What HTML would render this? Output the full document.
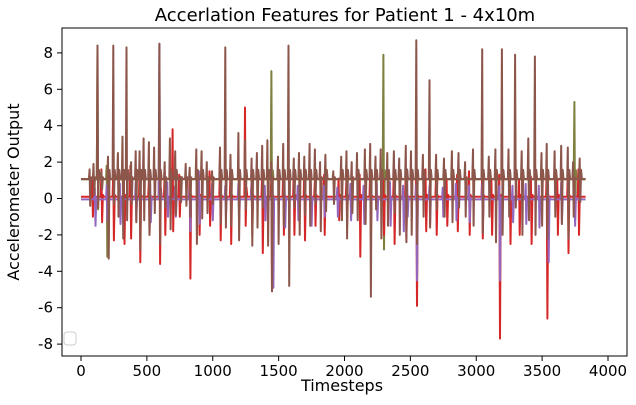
<!DOCTYPE html>
<html><head><meta charset="utf-8"><style>
body{margin:0;background:#fff;font-family:"DejaVu Sans",sans-serif}
svg text{font-family:"DejaVu Sans","Liberation Sans",sans-serif;fill:#000}
</style></head><body>
<svg id="c" width="636" height="401">
<rect x="0" y="0" width="636" height="401" fill="#fff"/>
<text x="345" y="21" font-size="18" text-anchor="middle">Accerlation Features for Patient 1 - 4x10m</text>
<text x="342" y="391" font-size="16" text-anchor="middle">Timesteps</text>
<text x="19" y="192" font-size="16" text-anchor="middle" transform="rotate(-90 19 192)">Accelerometer Output</text>
<g id="plot"></g>
<rect x="62" y="28" width="565" height="328" fill="none" stroke="#000" stroke-width="1"/>
<rect x="64" y="332" width="12" height="13" rx="3" fill="#fff" stroke="#ccc"/>
</svg>
<script>
const xTicks=[0,500,1000,1500,2000,2500,3000,3500,4000];
const yTicks=[-8,-6,-4,-2,0,2,4,6,8];
const baseBrown=1.07, baseOlive=1.05, baseRed=0.1, basePurple=-0.05;
// events: [timestep, peak, trough]
const oliveEvents=[[130,8.4,-0.6],[1450,7.0,-1.0],[2300,7.9,-2.8],[3750,5.3,-1.2],[200,1.8,-3.2]];
const brownEvents=[[70,1.6,-0.4],[100,1.9,0.2],[130,8.4,-0.5],[160,1.5,0.5],[210,2.3,-3.3],[250,8.4,-0.3],[285,2.5,-1.0],[320,3.4,-2.2],[350,8.3,-1.2],[385,2.0,-0.3],[420,2.6,-1.3],[450,2.6,-2.8],[480,3.3,-1.2],[520,3.1,-2.0],[560,2.8,-0.8],[600,8.5,-2.5],[640,2.0,-0.5],[680,3.3,-1.7],[720,2.6,-0.9],[760,1.2,-0.2],[800,1.9,-0.4],[830,1.7,-1.0],[880,2.7,-2.5],[920,2.6,-1.1],[960,2.0,-0.8],[1000,1.5,-0.3],[1060,2.8,-1.4],[1100,8.3,-1.6],[1140,2.4,-1.5],[1200,3.6,-2.3],[1250,3.2,-0.6],[1300,2.2,-2.6],[1340,2.5,-1.6],[1380,2.9,-0.5],[1420,3.2,-2.6],[1450,2.0,-5.1],[1500,2.3,-2.5],[1540,3.0,-1.5],[1580,8.4,-4.8],[1620,2.2,-0.5],[1660,2.5,-2.0],[1700,2.3,-0.9],[1740,3.0,-1.5],[1780,2.7,-0.3],[1820,2.0,-1.8],[1860,2.4,-0.7],[1920,1.5,-0.3],[1980,2.3,-1.2],[2020,2.6,-2.2],[2060,2.0,-0.8],[2100,2.5,-1.2],[2160,2.7,-1.4],[2200,3.0,-5.4],[2240,2.3,-0.6],[2280,2.7,-2.2],[2330,2.5,-1.5],[2380,2.6,-0.8],[2420,2.2,-2.0],[2470,2.9,-2.4],[2510,2.6,-2.0],[2550,8.7,-2.5],[2600,2.4,-1.0],[2650,6.5,-1.6],[2700,2.4,-0.6],[2760,2.2,-1.0],[2820,2.6,-1.3],[2870,2.5,-0.5],[2920,2.0,-1.0],[2980,2.7,-1.5],[3050,8.2,-1.9],[3100,2.3,-1.0],[3150,2.7,-2.4],[3200,8.2,-2.0],[3250,2.7,-1.0],[3300,7.9,-0.5],[3350,2.6,-2.0],[3400,3.3,-1.2],[3450,7.8,-2.0],[3500,2.5,-1.5],[3540,3.0,-2.2],[3600,2.6,-1.0],[3650,2.9,-1.4],[3700,2.8,-2.2],[3740,2.0,-1.0],[3790,2.2,-0.2]];
const redEvents=[[90,1.0,-1.0],[160,1.6,-1.3],[250,1.5,-2.3],[330,1.5,-2.5],[380,1.8,-2.2],[450,1.8,-3.5],[520,1.0,-2.0],[600,4.9,-3.6],[640,1.5,-2.0],[700,3.8,-1.8],[750,1.3,-1.0],[830,1.3,-4.4],[900,1.3,-2.0],[980,1.5,-1.5],[1060,1.8,-2.3],[1140,1.5,-2.5],[1250,5.0,-1.5],[1300,1.0,-2.0],[1380,1.6,-3.0],[1450,1.3,-5.1],[1540,1.5,-2.0],[1620,1.5,-2.0],[1700,1.6,-2.3],[1780,1.0,-1.5],[1850,1.3,-2.0],[1960,1.1,-1.2],[2020,1.2,-1.5],[2120,1.3,-3.2],[2200,1.5,-2.2],[2300,1.0,-2.0],[2380,1.5,-2.5],[2470,1.5,-2.2],[2550,1.5,-5.9],[2620,1.6,-1.8],[2700,1.3,-2.0],[2780,1.0,-1.5],[2860,1.3,-1.8],[2950,1.5,-2.0],[3050,1.2,-2.2],[3120,1.0,-2.0],[3180,1.3,-7.7],[3260,1.5,-2.5],[3330,1.0,-2.0],[3420,1.2,-2.5],[3540,1.5,-6.6],[3620,1.0,-2.0],[3700,1.4,-3.0],[3780,1.6,-2.0]];
const purpleEvents=[[110,0.6,-1.5],[200,0.7,-1.2],[300,0.8,-1.4],[420,0.9,-1.2],[530,0.8,-1.3],[600,8.5,-0.5],[660,0.9,-1.0],[720,0.7,-1.0],[830,0.6,-1.8],[900,1.5,-1.4],[1000,0.8,-1.2],[1100,0.7,-1.0],[1200,0.8,-1.5],[1300,0.9,-1.0],[1400,0.7,-1.2],[1460,0.6,-4.9],[1550,0.9,-1.6],[1650,0.7,-1.2],[1750,0.8,-1.5],[1850,0.7,-1.0],[1950,0.6,-1.0],[2050,0.8,-1.2],[2150,0.7,-1.4],[2250,0.8,-1.2],[2350,0.9,-1.5],[2450,0.7,-1.8],[2480,1.6,-1.0],[2550,0.8,-4.5],[2650,0.7,-1.4],[2750,0.6,-1.0],[2850,0.8,-1.2],[2950,0.7,-1.3],[3050,0.8,-1.5],[3180,0.7,-4.5],[3280,0.7,-1.3],[3380,0.8,-1.4],[3480,0.7,-1.6],[3550,0.8,-3.5],[3650,0.9,-1.4],[3750,0.7,-1.5]];
const x=t=>81+t*0.13175;
const y=v=>198.5-v*18.2;
const NS="http://www.w3.org/2000/svg";
const svg=document.getElementById('c'), plot=document.getElementById('plot');
function mk(tag,attrs,parent){const e=document.createElementNS(NS,tag);for(const k in attrs)e.setAttribute(k,attrs[k]);(parent||svg).appendChild(e);return e;}
xTicks.forEach(t=>{
  const l=mk('line',{x1:x(t),x2:x(t),y1:356,y2:361,stroke:'#000'});
  
  
  const tx=mk('text',{x:x(t),y:376,'font-size':15,'text-anchor':'middle'});tx.textContent=t;
  
  
});
yTicks.forEach(v=>{
  const l=mk('line',{x1:57,x2:62,y1:y(v),y2:y(v),stroke:'#000'});
  
  
  const tx=mk('text',{x:53,y:y(v)+5,'font-size':15,'text-anchor':'end'});tx.textContent=v;
  
  
});
function series(events,base,color,name,w){
  const ev=events.slice().sort((a,b)=>a[0]-b[0]);
  let pts=[[0,base]];
  ev.forEach(e=>{pts.push([e[0]-10,base],[e[0]-5,e[1]],[e[0],e[2]],[e[0]+6,base+(e[1]>2?0.5:0.1)],[e[0]+12,base]);});
  pts.push([3830,base]);
  const p=mk('polyline',{points:pts.map(q=>x(q[0]).toFixed(1)+','+y(q[1]).toFixed(1)).join(' '),fill:'none',stroke:color,'stroke-width':w,'stroke-linejoin':'round'},plot);
  
  
}
series(oliveEvents,baseOlive,'#7f7f3f','series-olive',2);
series(redEvents,baseRed,'#d62728','series-red',2);
series(purpleEvents,basePurple,'#9467bd','series-purple',2);
series(brownEvents,baseBrown,'#8c564b','series-brown',2);
</script>
</body></html>
